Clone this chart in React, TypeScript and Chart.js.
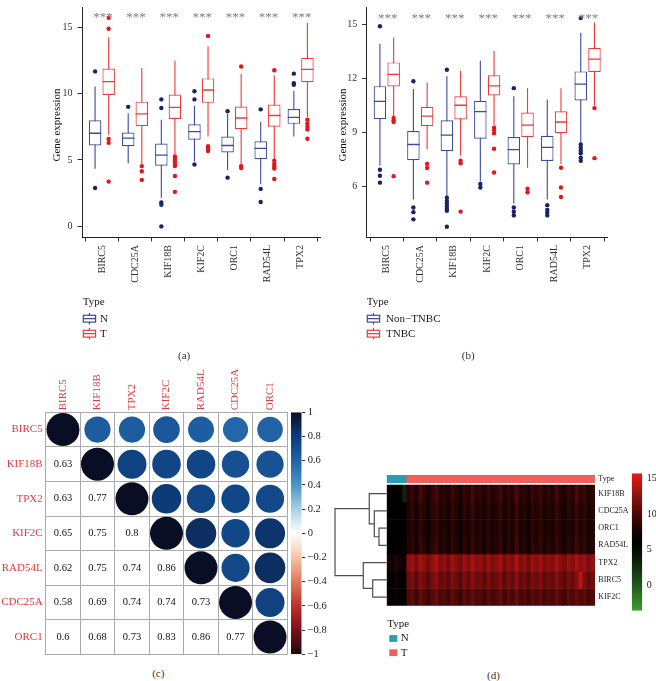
import React, { useEffect, useRef } from 'react';
import { Chart, registerables } from 'chart.js';

Chart.register(...registerables);

const SERIF = '"Liberation Serif", "Times New Roman", Times, serif';
Chart.defaults.font.family = SERIF;

// ---------------- Panels (a) and (b): box plots ----------------
const genes = ['BIRC5', 'CDC25A', 'KIF18B', 'KIF2C', 'ORC1', 'RAD54L', 'TPX2'];
const sigLabels = ['***', '***', '***', '***', '***', '***', '***'];

// each row: [lower whisker, Q1, median, Q3, upper whisker]
const normalStats = [
  [4.34, 6.09, 7.01, 7.99, 10.53],
  [4.76, 6.04, 6.65, 7.06, 8.52],
  [2.16, 4.56, 5.36, 6.24, 8.03],
  [4.88, 6.53, 7.14, 7.69, 9.08],
  [4.25, 5.56, 6.09, 6.77, 8.47],
  [3.18, 5.05, 5.87, 6.41, 7.86],
  [6.77, 7.72, 8.2, 8.83, 10.22],
];
const normalOutliers = [
  [11.67, 2.89],
  [9.0],
  [9.56, 8.91, 1.8, 1.62, 0],
  [10.17, 9.56, 4.66],
  [8.67, 3.67],
  [8.81, 2.82, 1.84],
  [11.5, 10.78, 10.66],
];
const tumorStats = [
  [6.9, 9.9, 10.9, 11.89, 14.25],
  [4.66, 7.55, 8.47, 9.39, 11.92],
  [5.44, 8.08, 8.96, 9.93, 12.48],
  [6.77, 9.3, 10.27, 11.14, 13.57],
  [4.64, 7.31, 8.16, 9.03, 11.5],
  [5.07, 7.5, 8.35, 9.17, 11.38],
  [8.23, 10.85, 11.82, 12.69, 15.32],
];
const tumorOutliers = [
  [15.7, 14.88, 6.58, 6.29, 3.37],
  [4.54, 4.15, 3.5],
  [5.27, 5.1, 4.9, 4.7, 4.55, 3.79, 2.6],
  [14.34, 6.04, 5.85, 5.68],
  [12.04, 4.54, 4.39],
  [11.75, 4.95, 4.7, 4.5, 4.35, 3.57],
  [8.03, 7.74, 7.5, 7.3, 6.6],
];
const nonTnbcStats = [
  [7.17, 9.75, 10.74, 11.58, 13.93],
  [5.29, 7.46, 8.34, 9.09, 11.42],
  [5.47, 7.96, 8.86, 9.68, 12.13],
  [6.28, 8.66, 10.16, 10.77, 12.99],
  [5.06, 7.23, 8.05, 8.75, 11.02],
  [5.29, 7.42, 8.18, 8.82, 10.84],
  [8.43, 10.79, 11.69, 12.4, 14.55],
];
const nonTnbcOutliers = [
  [14.91, 6.94, 6.6, 6.22],
  [11.85, 4.84, 4.58, 4.18],
  [12.49, 5.38, 5.2, 5.05, 4.9, 4.75, 4.66, 3.77],
  [6.15, 5.95],
  [11.47, 4.84, 4.6, 4.4],
  [4.97, 4.7, 4.55, 4.4],
  [15.36, 8.34, 8.16, 8.0, 7.85, 7.6, 7.43],
];
const tnbcStats = [
  [9.86, 11.56, 12.24, 12.9, 14.28],
  [8.07, 9.36, 9.91, 10.43, 11.79],
  [7.71, 9.73, 10.52, 11.02, 12.42],
  [9.41, 11.06, 11.6, 12.19, 13.53],
  [7.05, 8.75, 9.41, 10.11, 11.47],
  [7.26, 8.96, 9.59, 10.18, 11.47],
  [10.49, 12.37, 13.08, 13.71, 15.11],
];
const tnbcOutliers = [
  [9.81, 9.68, 9.59, 6.58],
  [7.26, 7.03, 6.22],
  [7.44, 7.3, 4.61],
  [9.27, 9.14, 8.96, 8.1, 6.78],
  [5.88, 5.69],
  [7.05, 5.95, 5.42],
  [10.36, 7.58],
];
const aTicks = [0, 5, 10, 15];
const bTicks = [6, 9, 12, 15];

// ---------------- Panel (c): correlation ----------------
const corrGenes = ['BIRC5', 'KIF18B', 'TPX2', 'KIF2C', 'RAD54L', 'CDC25A', 'ORC1'];
const corrLower = [
  [],
  [0.63],
  [0.63, 0.77],
  [0.65, 0.75, 0.8],
  [0.62, 0.75, 0.74, 0.86],
  [0.58, 0.69, 0.74, 0.74, 0.73],
  [0.6, 0.68, 0.73, 0.83, 0.86, 0.77],
];
const corrTicks = [-1, -0.8, -0.6, -0.4, -0.2, 0, 0.2, 0.4, 0.6, 0.8, 1];

// ---------------- Panel (d): heatmap ----------------
const heatGenes = ['KIF18B', 'CDC25A', 'ORC1', 'RAD54L', 'TPX2', 'BIRC5', 'KIF2C'];
const sampleGroups = [
  { type: 'N', count: 5 },
  { type: 'T', count: 47 },
];
const heatKIF18B = [6.2, 6.0, 6.4, 6.1, 3.0,
  8.4, 9.1, 7.9, 9.6, 8.6, 7.7, 8.9, 9.8, 8.2, 8.7, 7.8, 9.3, 8.5, 7.6, 9.0, 8.3, 9.7, 8.4, 8.8, 7.9, 9.2, 8.1, 8.6, 9.5,
  7.8, 8.9, 8.3, 10.0, 8.2, 8.7, 7.7, 9.1, 8.5, 9.4, 8.0, 8.8, 8.2, 9.6, 8.4, 7.8, 9.0, 8.3, 9.9, 8.6, 9.2, 8.1, 8.7];
const heatCDC25A = [6.1, 6.4, 5.9, 6.2, 6.0,
  8.0, 8.6, 7.6, 9.0, 8.2, 7.4, 8.5, 9.2, 7.9, 8.3, 7.5, 8.8, 8.1, 7.3, 8.6, 7.9, 9.1, 8.0, 8.4, 7.6, 8.7, 7.8, 8.2, 9.0,
  7.5, 8.5, 7.9, 9.3, 7.8, 8.3, 7.4, 8.7, 8.1, 8.9, 7.7, 8.4, 7.9, 9.1, 8.0, 7.5, 8.6, 8.0, 9.2, 8.2, 8.8, 7.7, 8.3];
const heatORC1 = [6.2, 5.9, 6.4, 6.0, 5.9,
  7.8, 8.4, 7.4, 8.8, 8.0, 7.2, 8.3, 9.0, 7.7, 8.1, 7.3, 8.6, 7.9, 7.1, 8.4, 7.7, 8.9, 7.8, 8.2, 7.4, 8.5, 7.6, 8.0, 8.8,
  7.3, 8.3, 7.7, 9.1, 7.6, 8.1, 7.2, 8.5, 7.9, 8.7, 7.5, 8.2, 7.7, 8.9, 7.8, 7.3, 8.4, 7.8, 9.0, 8.0, 8.6, 7.5, 8.1];
const heatRAD54L = [5.9, 6.2, 5.8, 6.0, 5.8,
  8.1, 8.7, 7.5, 9.1, 8.3, 7.3, 8.6, 9.4, 7.8, 8.4, 7.4, 8.9, 8.2, 7.2, 8.7, 7.8, 9.2, 8.1, 8.5, 7.5, 8.8, 7.7, 8.3, 9.1,
  7.4, 8.6, 7.8, 9.5, 7.7, 8.4, 7.3, 8.8, 8.2, 9.0, 7.6, 8.5, 7.8, 9.2, 8.1, 7.4, 8.7, 7.9, 9.3, 8.3, 8.9, 7.6, 8.4];
const heatTPX2 = [7.6, 7.2, 7.9, 7.4, 7.0,
  12.3, 12.9, 11.7, 13.2, 12.4, 11.5, 12.7, 13.4, 12.0, 12.5, 11.6, 13.0, 12.2, 11.4, 12.8, 12.0, 13.3, 12.3, 12.6, 11.7,
  12.9, 11.9, 12.4, 13.1, 11.6, 12.7, 12.0, 13.5, 11.9, 12.5, 11.5, 12.9, 12.2, 13.0, 11.8, 12.6, 12.0, 13.2, 12.3, 11.6,
  12.8, 12.1, 13.3, 12.4, 12.9, 11.8, 12.5];
const heatBIRC5 = [6.8, 6.4, 7.1, 6.6, 6.2,
  11.2, 11.8, 10.6, 12.1, 11.3, 10.4, 11.6, 12.3, 10.9, 11.4, 10.5, 11.9, 11.1, 10.3, 11.7, 10.9, 12.2, 11.2, 11.5, 10.6,
  11.8, 10.8, 11.3, 12.0, 10.5, 11.6, 10.9, 12.4, 10.8, 11.4, 10.4, 11.8, 11.1, 11.9, 10.7, 11.5, 10.9, 12.1, 11.2, 10.5,
  11.7, 11.0, 12.2, 14.0, 11.8, 10.7, 11.4];
const heatKIF2C = [6.6, 6.3, 6.9, 6.5, 6.1,
  10.0, 10.6, 9.5, 10.9, 10.1, 9.3, 10.4, 11.1, 9.8, 10.2, 9.4, 10.7, 9.9, 9.2, 10.5, 9.8, 11.0, 10.0, 10.3, 9.5, 10.6,
  9.7, 10.1, 10.8, 9.4, 10.4, 9.8, 11.2, 9.7, 10.2, 9.3, 10.6, 9.9, 10.7, 9.6, 10.3, 9.8, 10.9, 10.0, 9.4, 10.5, 9.9,
  11.0, 10.1, 10.6, 9.6, 10.2];
const heatRows = [heatKIF18B, heatCDC25A, heatORC1, heatRAD54L, heatTPX2, heatBIRC5, heatKIF2C];
const heatTicks = [0, 5, 10, 15];
// hierarchical clustering merges: [left, right, height] ; node k is named "m{k+1}"
const dendroMerges: [string, string, number][] = [
  ['ORC1', 'RAD54L', 0.149],
  ['CDC25A', 'm1', 0.24],
  ['KIF18B', 'm2', 0.337],
  ['BIRC5', 'KIF2C', 0.271],
  ['TPX2', 'm4', 0.453],
  ['m3', 'm5', 1],
];

// ---------------- styles ----------------
const BLUE_LINE = '#3c4b9c';
const BLUE_PT = '#1b2267';
const RED_LINE = '#ec393d';
const RED_PT = '#e2161c';
const TYPE_COLORS: any = { N: '#2a9db3', T: '#f0605b' };
const HEAT_MIN = -3.5;
const HEAT_MAX = 15.7;
const corrStops: [number, string][] = [
  [-1, '#1c0a0c'], [-0.8, '#7a0e1c'], [-0.6, '#bf2e2f'], [-0.4, '#e07858'], [-0.2, '#f8c2a5'],
  [0, '#ffffff'], [0.2, '#a8d0e5'], [0.4, '#4b95c6'], [0.6, '#1f62a6'], [0.8, '#0d3b7a'], [1, '#0a0e24'],
];

function hexToRgb(h: string) {
  const n = parseInt(h.slice(1), 16);
  return [(n >> 16) & 255, (n >> 8) & 255, n & 255];
}
function corrColor(v: number) {
  for (let i = 0; i < corrStops.length - 1; i++) {
    const [v0, c0] = corrStops[i];
    const [v1, c1] = corrStops[i + 1];
    if (v >= v0 && v <= v1) {
      const t = (v - v0) / (v1 - v0);
      const a = hexToRgb(c0), b = hexToRgb(c1);
      return `rgb(${Math.round(a[0] + (b[0] - a[0]) * t)},${Math.round(a[1] + (b[1] - a[1]) * t)},${Math.round(a[2] + (b[2] - a[2]) * t)})`;
    }
  }
  return corrStops[corrStops.length - 1][1];
}
function heatColor(v: number) {
  const t = Math.min(1, Math.max(0, (v - HEAT_MIN) / (HEAT_MAX - HEAT_MIN)));
  if (t < 0.5) {
    const k = Math.pow((0.5 - t) / 0.5, 1.25);
    return `rgb(${Math.round(58 * k)},${Math.round(158 * k)},${Math.round(46 * k)})`;
  }
  const k = Math.pow((t - 0.5) / 0.5, 1.25);
  return `rgb(${Math.round(235 * k)},${Math.round(26 * k)},${Math.round(26 * k)})`;
}

const noInteract = { legend: { display: false }, tooltip: { enabled: false } };

function boxDatasets(stats: number[][], outliers: number[][], dx: number, line: string, pt: string) {
  return [
    {
      type: 'bar', order: 4, grouped: false, inflateAmount: 0,
      data: stats.map((s, i) => ({ x: i + 1 + dx, y: [s[0], s[4]] })),
      backgroundColor: line, borderWidth: 0, barThickness: 1.1,
    },
    {
      type: 'bar', order: 3, grouped: false, inflateAmount: 0,
      data: stats.map((s, i) => ({ x: i + 1 + dx, y: [s[1], s[3]] })),
      backgroundColor: '#ffffff', borderColor: line, borderWidth: 1.2, borderSkipped: false, barThickness: 12.5,
    },
    {
      type: 'scatter', order: 2,
      data: stats.map((s, i) => ({ x: i + 1 + dx, y: s[2] })),
      pointStyle: 'line', pointRadius: 6.2, pointBorderColor: line, pointBorderWidth: 1.3,
    },
    {
      type: 'scatter', order: 1,
      data: outliers.flatMap((o, i) => o.map((v) => ({ x: i + 1 + dx, y: v }))),
      pointRadius: 2.2, pointBackgroundColor: pt, pointBorderWidth: 0,
    },
  ];
}

function makeBoxChart(canvas: HTMLCanvasElement, p: any) {
  const axisGrid = { display: true, drawOnChartArea: false, drawTicks: true, tickLength: 4.5, color: '#333', lineWidth: 1 };
  const axisBorder = { display: true, color: '#222', width: 1 };
  const plugins = [
    {
      id: 'sig',
      afterDatasetsDraw(chart: any) {
        const { ctx, scales } = chart;
        ctx.save();
        ctx.font = `13px ${SERIF}`;
        ctx.fillStyle = '#808080';
        ctx.textAlign = 'center';
        ctx.textBaseline = 'middle';
        sigLabels.forEach((s, i) => ctx.fillText(s, scales.x.getPixelForValue(i + 1) + 1, scales.y.getPixelForValue(p.sigY) + 2.5));
        ctx.restore();
      },
    },
    {
      id: 'extras',
      afterDraw(chart: any) {
        const ctx = chart.ctx;
        ctx.save();
        ctx.translate(p.titleX, 125);
        ctx.rotate(-Math.PI / 2);
        ctx.font = `11px ${SERIF}`;
        ctx.fillStyle = '#111';
        ctx.textAlign = 'center';
        ctx.textBaseline = 'middle';
        ctx.fillText('Gene expression', 0, 0);
        ctx.restore();
        ctx.save();
        ctx.font = `11px ${SERIF}`;
        ctx.fillStyle = '#1a1a1a';
        ctx.textAlign = 'left';
        ctx.textBaseline = 'middle';
        const x0 = p.legendX;
        ctx.fillText('Type', x0, 302);
        p.legend.forEach((it: any) => {
          const y = it.y;
          const cx = x0 + 6.75;
          ctx.strokeStyle = it.color;
          ctx.lineWidth = 1.2;
          ctx.strokeRect(x0 + 0.6, y - 3.4, 12.3, 6.8);
          ctx.beginPath();
          ctx.moveTo(x0 + 0.6, y);
          ctx.lineTo(x0 + 12.9, y);
          ctx.moveTo(cx, y - 3.4);
          ctx.lineTo(cx, y - 5.8);
          ctx.moveTo(cx, y + 3.4);
          ctx.lineTo(cx, y + 5.8);
          ctx.stroke();
          ctx.fillStyle = '#1a1a1a';
          ctx.fillText(it.label, p.legendTextX, y);
        });
        ctx.restore();
      },
    },
  ];
  return new Chart(canvas, {
    type: 'bar',
    data: {
      datasets: [
        ...boxDatasets(p.g1.stats, p.g1.out, -0.205, BLUE_LINE, BLUE_PT),
        ...boxDatasets(p.g2.stats, p.g2.out, 0.205, RED_LINE, RED_PT),
      ] as any,
    },
    options: {
      animation: false, responsive: false, devicePixelRatio: 1, events: [],
      layout: { padding: { left: 0, right: p.padRight, top: 0, bottom: 55 } },
      plugins: noInteract,
      scales: {
        x: {
          type: 'linear', min: 0.4, max: 7.6, offset: false,
          afterBuildTicks: (s: any) => { s.ticks = genes.map((_, i) => ({ value: i + 1 })); },
          afterFit: (s: any) => { s.height = 53; s.paddingLeft = 0; s.paddingRight = 0; },
          ticks: {
            callback: (v: any) => genes[Math.round(v) - 1], minRotation: 90, maxRotation: 90, autoSkip: false,
            padding: 3.5, font: { family: SERIF, size: 10 }, color: '#333',
          },
          grid: axisGrid, border: axisBorder,
        },
        y: {
          type: 'linear', min: p.yMin, max: p.yMax,
          afterBuildTicks: (s: any) => { s.ticks = p.yTicks.map((v: number) => ({ value: v })); },
          afterFit: (s: any) => { s.width = p.yAxisWidth; s.paddingTop = 0; s.paddingBottom = 0; },
          ticks: { padding: 5, font: { family: SERIF, size: 10 }, color: '#333' },
          grid: axisGrid, border: axisBorder,
        },
      },
    } as any,
    plugins,
  });
}

function makeCorrChart(canvas: HTMLCanvasElement) {
  const n = corrGenes.length;
  const value = (i: number, j: number) => (i === j ? 1 : i > j ? corrLower[i][j] : corrLower[j][i]);
  const circles: any[] = [];
  for (let i = 0; i < n; i++) for (let j = i; j < n; j++) circles.push({ x: j + 0.5, y: i + 0.5, r: value(i, j) });
  const gridOpts = { offset: true, drawTicks: false, color: '#a9a9a9', lineWidth: 1 };
  return new Chart(canvas, {
    type: 'scatter',
    data: {
      datasets: [{
        data: circles,
        pointRadius: (ctx: any) => {
          const xs = ctx.chart.scales.x;
          const cell = Math.abs(xs.getPixelForValue(1) - xs.getPixelForValue(0));
          return Math.sqrt(Math.abs(ctx.raw.r)) * cell * 0.478;
        },
        pointBackgroundColor: (ctx: any) => corrColor(ctx.raw.r),
        pointBorderWidth: 0,
      }],
    },
    options: {
      animation: false, responsive: false, devicePixelRatio: 1, events: [],
      layout: { padding: { left: 0, right: 2.7, top: 0, bottom: 10.7 } },
      plugins: noInteract,
      scales: {
        x: {
          type: 'linear', position: 'top', min: 0, max: n,
          afterBuildTicks: (s: any) => { s.ticks = corrGenes.map((_, i) => ({ value: i + 0.5 })); },
          afterFit: (s: any) => { s.height = 52.3; s.paddingLeft = 0; s.paddingRight = 0; },
          ticks: {
            callback: (_v: any, i: number) => corrGenes[i], minRotation: 90, maxRotation: 90, autoSkip: false,
            padding: 2, labelOffset: 13.2, font: { family: SERIF, size: 11 }, color: '#e0393e',
          },
          grid: gridOpts, border: { display: true, color: '#a9a9a9' },
        },
        y: {
          type: 'linear', reverse: true, min: 0, max: n,
          afterBuildTicks: (s: any) => { s.ticks = corrGenes.map((_, i) => ({ value: i + 0.5 })); },
          afterFit: (s: any) => { s.width = 45.7; s.paddingTop = 0; s.paddingBottom = 0; },
          ticks: { callback: (_v: any, i: number) => corrGenes[i], autoSkip: false, padding: 3, font: { family: SERIF, size: 11 }, color: '#e0393e' },
          grid: gridOpts, border: { display: true, color: '#a9a9a9' },
        },
      },
    } as any,
    plugins: [{
      id: 'corrText',
      afterDatasetsDraw(chart: any) {
        const { ctx, scales } = chart;
        ctx.save();
        ctx.font = `10.5px ${SERIF}`;
        ctx.fillStyle = '#111';
        ctx.textAlign = 'center';
        ctx.textBaseline = 'middle';
        corrLower.forEach((row, i) => row.forEach((v, j) => {
          ctx.fillText(String(v), scales.x.getPixelForValue(j + 0.5), scales.y.getPixelForValue(i + 0.5));
        }));
        ctx.restore();
      },
    }],
  });
}

function makeColorbar(canvas: HTMLCanvasElement, o: any) {
  return new Chart(canvas, {
    type: 'bar',
    data: {
      labels: ['scale'],
      datasets: [{
        data: [[o.min, o.max]],
        backgroundColor: (ctx: any) => {
          const chart = ctx.chart;
          if (!chart.chartArea) return 'transparent';
          const ys = chart.scales.y;
          const g = chart.ctx.createLinearGradient(0, ys.getPixelForValue(o.min), 0, ys.getPixelForValue(o.max));
          o.stops.forEach(([t, c]: [number, string]) => g.addColorStop(t, c));
          return g;
        },
        borderWidth: 0, categoryPercentage: 1, barPercentage: 1, inflateAmount: 0,
      }],
    },
    options: {
      animation: false, responsive: false, devicePixelRatio: 1, events: [],
      layout: { padding: o.padding },
      plugins: noInteract,
      scales: {
        x: { display: false },
        y: {
          position: 'right', min: o.min, max: o.max,
          afterBuildTicks: (s: any) => { s.ticks = o.ticks.map((v: number) => ({ value: v })); },
          afterFit: (s: any) => { s.width = o.axisWidth; s.paddingTop = 0; s.paddingBottom = 0; },
          ticks: { callback: o.format, padding: o.labelPad, font: { family: SERIF, size: o.fontSize }, color: '#222' },
          grid: o.tickLen
            ? { display: true, drawOnChartArea: false, drawTicks: true, tickLength: o.tickLen, color: '#333' }
            : { display: false, drawTicks: false },
          border: { display: false },
        },
      },
    } as any,
  });
}

function makeHeatmap(canvas: HTMLCanvasElement) {
  const types: string[] = sampleGroups.flatMap((g) => Array(g.count).fill(g.type));
  const labels = types.map((_, i) => String(i + 1));
  const rowLabels = ['Type', ...heatGenes];
  const datasets: any[] = [{
    data: types.map(() => [-0.58, -0.133]),
    backgroundColor: types.map((t) => TYPE_COLORS[t]),
    borderWidth: 0, grouped: false, categoryPercentage: 1, barPercentage: 1,
  }];
  heatRows.forEach((vals, r) => datasets.push({
    data: vals.map(() => [r, r + 1]),
    backgroundColor: vals.map((v) => heatColor(v)),
    borderWidth: 0, grouped: false, categoryPercentage: 1, barPercentage: 1,
  }));
  return new Chart(canvas, {
    type: 'bar',
    data: { labels, datasets },
    options: {
      animation: false, responsive: false, devicePixelRatio: 1, events: [],
      layout: { padding: { left: 6.7, right: 0, top: 10, bottom: 59.3 } },
      plugins: noInteract,
      scales: {
        x: { display: false },
        y: {
          position: 'right', reverse: true, min: -0.58, max: heatGenes.length,
          afterBuildTicks: (s: any) => { s.ticks = [-0.357, ...heatGenes.map((_, i) => i + 0.5)].map((v) => ({ value: v })); },
          afterFit: (s: any) => { s.width = 35; s.paddingTop = 0; s.paddingBottom = 0; },
          ticks: { callback: (_v: any, i: number) => rowLabels[i], autoSkip: false, padding: 3.3, font: { family: SERIF, size: 8 }, color: '#222' },
          grid: { display: false, drawTicks: false },
          border: { display: false },
        },
      },
    } as any,
    plugins: [{
      id: 'heatLegend',
      afterDraw(chart: any) {
        const ctx = chart.ctx;
        ctx.save();
        ctx.font = `11px ${SERIF}`;
        ctx.fillStyle = '#1a1a1a';
        ctx.textAlign = 'left';
        ctx.textBaseline = 'middle';
        ctx.fillText('Type', 7.3, 159);
        [['N', 173.5], ['T', 187.7]].forEach(([t, y]: any) => {
          ctx.fillStyle = TYPE_COLORS[t];
          ctx.fillRect(9.3, y - 3.4, 8, 6.8);
          ctx.fillStyle = '#1a1a1a';
          ctx.fillText(t, 20.7, y);
        });
        ctx.restore();
      },
    }],
  });
}

function makeDendrogram(canvas: HTMLCanvasElement) {
  const pos: any = {};
  heatGenes.forEach((g, i) => { pos[g] = { y: i + 0.5, h: 0 }; });
  const datasets = dendroMerges.map(([a, b, h], k) => {
    const A = pos[a], B = pos[b];
    pos['m' + (k + 1)] = { y: (A.y + B.y) / 2, h };
    return {
      data: [{ x: A.h, y: A.y }, { x: h, y: A.y }, { x: h, y: B.y }, { x: B.h, y: B.y }],
      showLine: true, borderColor: '#4d4d4d', borderWidth: 1.2, pointRadius: 0, clip: false,
    };
  });
  return new Chart(canvas, {
    type: 'scatter',
    data: { datasets },
    options: {
      animation: false, responsive: false, devicePixelRatio: 1, events: [],
      layout: { padding: { left: 5, right: 1.3, top: 20, bottom: 9.3 } },
      plugins: noInteract,
      scales: {
        x: { type: 'linear', min: 0, max: 1, reverse: true, display: false },
        y: { type: 'linear', min: 0, max: heatGenes.length, reverse: true, display: false },
      },
    } as any,
  });
}

const captionStyle = (cx: number, cy: number): any => ({
  position: 'absolute', left: cx - 20, top: cy - 6.5, width: 40, textAlign: 'center',
  font: `11px ${SERIF}`, lineHeight: '13px', color: '#333',
});
const abs = (l: number, t: number, w: number, h: number): any => ({ position: 'absolute', left: l, top: t, width: w, height: h });

export default function App() {
  const aRef = useRef<HTMLCanvasElement>(null);
  const bRef = useRef<HTMLCanvasElement>(null);
  const cRef = useRef<HTMLCanvasElement>(null);
  const cbRef = useRef<HTMLCanvasElement>(null);
  const dRef = useRef<HTMLCanvasElement>(null);
  const dendRef = useRef<HTMLCanvasElement>(null);
  const hbRef = useRef<HTMLCanvasElement>(null);

  useEffect(() => {
    const charts: Chart[] = [];
    charts.push(makeBoxChart(aRef.current!, {
      g1: { stats: normalStats, out: normalOutliers }, g2: { stats: tumorStats, out: tumorOutliers },
      yMin: -0.8, yMax: 16.48, yTicks: aTicks, yAxisWidth: 82, padRight: 6, sigY: 15.88, titleX: 57,
      legendX: 82.7, legendTextX: 100,
      legend: [{ label: 'N', color: BLUE_LINE, y: 318.7 }, { label: 'T', color: RED_LINE, y: 333.7 }],
    }));
    charts.push(makeBoxChart(bRef.current!, {
      g1: { stats: nonTnbcStats, out: nonTnbcOutliers }, g2: { stats: tnbcStats, out: tnbcOutliers },
      yMin: 3.2, yMax: 15.95, yTicks: bTicks, yAxisWidth: 38.7, padRight: 48.3, sigY: 15.5, titleX: 14.7,
      legendX: 38.7, legendTextX: 58,
      legend: [{ label: 'Non\u2212TNBC', color: BLUE_LINE, y: 318.7 }, { label: 'TNBC', color: RED_LINE, y: 333.7 }],
    }));
    charts.push(makeCorrChart(cRef.current!));
    charts.push(makeColorbar(cbRef.current!, {
      min: -1, max: 1, ticks: corrTicks, axisWidth: 26.3, labelPad: 2.5, tickLen: 3.5, fontSize: 10.5,
      padding: { left: 6, right: 0, top: 12.3, bottom: 10.7 },
      stops: corrStops.map(([v, c]) => [(v + 1) / 2, c]),
      format: (v: number) => (v < 0 ? '\u2212' : '') + String(Math.abs(Math.round(v * 10) / 10)),
    }));
    charts.push(makeHeatmap(dRef.current!));
    charts.push(makeDendrogram(dendRef.current!));
    const heatStops: [number, string][] = [];
    for (let k = 0; k <= 20; k++) heatStops.push([k / 20, heatColor(HEAT_MIN + (k / 20) * (HEAT_MAX - HEAT_MIN))]);
    charts.push(makeColorbar(hbRef.current!, {
      min: HEAT_MIN, max: HEAT_MAX, ticks: heatTicks, axisWidth: 13.7, labelPad: 4.4, tickLen: 0, fontSize: 10,
      padding: { left: 6.7, right: 0, top: 8.3, bottom: 4.3 },
      stops: heatStops,
      format: (v: number) => String(v),
    }));
    return () => charts.forEach((c) => c.destroy());
  }, []);

  return (
    <div style={{ position: 'absolute', left: 0, top: 0, width: 656, height: 681, background: '#ffffff', overflow: 'hidden' }}>
      <canvas ref={aRef} width={328} height={345} style={abs(0, 0, 328, 345)} />
      <canvas ref={bRef} width={328} height={345} style={abs(328, 0, 328, 345)} />
      <canvas ref={cRef} width={290} height={305} style={abs(0, 360, 290, 305)} />
      <canvas ref={cbRef} width={43} height={265} style={abs(285, 400, 43, 265)} />
      <canvas ref={dRef} width={250} height={200} style={abs(380, 465, 250, 200)} />
      <canvas ref={dendRef} width={58} height={150} style={abs(330, 465, 58, 150)} />
      <canvas ref={hbRef} width={31} height={150} style={abs(625, 465, 31, 150)} />
      <div style={captionStyle(184.2, 355.5)}>(a)</div>
      <div style={captionStyle(468.2, 355.5)}>(b)</div>
      <div style={captionStyle(158.3, 673.5)}>(c)</div>
      <div style={captionStyle(493.5, 675.3)}>(d)</div>
    </div>
  );
}
